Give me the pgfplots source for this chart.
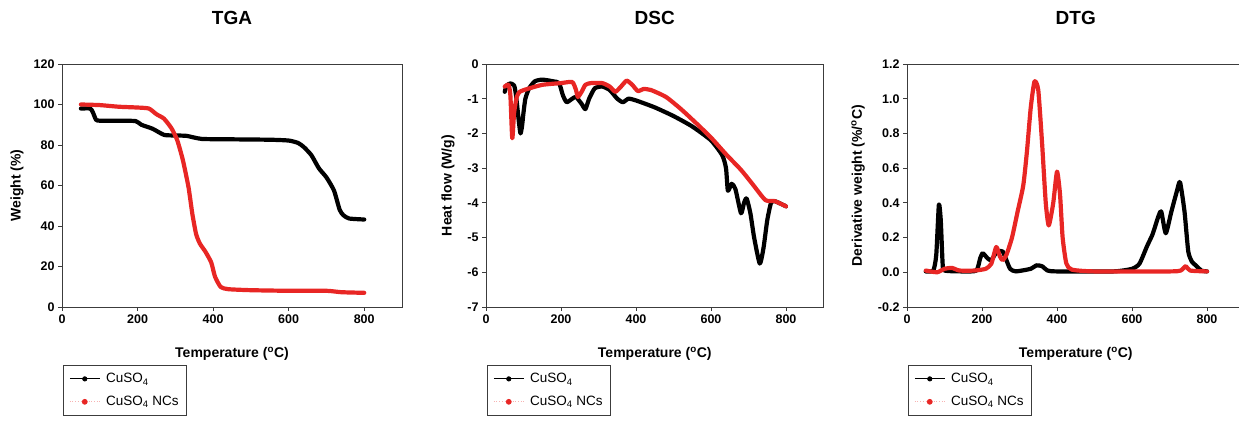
\documentclass[border=0pt]{standalone}
\usepackage{fontspec}
\setmainfont{Liberation Sans}
\usepackage{pgfplots}
\pgfplotsset{compat=1.18}
\definecolor{myred}{RGB}{232,38,36}
\definecolor{axgray}{RGB}{60,60,60}
\pgfplotsset{
  panel/.style={
    scale only axis, width=337.5pt, height=243pt, anchor=south west,
    xmin=0, xmax=900, xtick={0,200,400,600,800},
    tick align=outside, xtick pos=bottom, ytick pos=left,
    major tick length=4pt, axis line style={axgray, line width=0.8pt},
    tick style={axgray, line width=0.8pt},
    /pgf/number format/assume math mode=true,
    ticklabel style={font=\bfseries\fontsize{12.5}{14}\selectfont},
    label style={font=\bfseries\fontsize{14}{16}\selectfont},
    title style={font=\bfseries\fontsize{19}{22}\selectfont, at={(axis description cs:0.5,1)}, anchor=base, yshift=33pt},
    xlabel={Temperature (\textsuperscript{o}C)},
    xlabel style={at={(axis description cs:0.5,0)}, anchor=base, yshift=-51pt},
    legend cell align=left,
    legend style={at={(axis description cs:0.003,-0.239)}, anchor=north west,
      draw=axgray, line width=0.7pt, font=\fontsize{13.5}{15}\selectfont,
      inner xsep=6pt, inner ysep=6pt, row sep=8pt},
  },
  curve/.style={line width=4.2pt, line join=round, line cap=round, smooth, tension=0.35, forget plot},
}
\newcommand{\mylegend}{%
  \addlegendimage{legend image code/.code={\draw[black,line width=0.8pt](0pt,0pt)--(30pt,0pt);\fill[black](15pt,0pt) circle (2.2pt);\path (34pt,0pt);}}
  \addlegendentry{CuSO\textsubscript{4}}
  \addlegendimage{legend image code/.code={\draw[myred!35,dotted,line width=0.7pt](0pt,0pt)--(30pt,0pt);\fill[myred](15pt,0pt) circle (2.5pt);\path (34pt,0pt);}}
  \addlegendentry{CuSO\textsubscript{4} NCs}
}
\begin{document}
\begin{tikzpicture}
\useasboundingbox (0,0) rectangle (1239pt,422pt);
\clip (0,0) rectangle (1239pt,422pt);
% ---------------- TGA
\begin{axis}[panel, at={(62pt,115pt)}, width=340pt, title={TGA},
  ymin=0, ymax=120, ytick={0,20,40,60,80,100,120},
  ylabel={Weight (\%)}, ylabel style={at={(axis description cs:0,0.5)}, anchor=center, yshift=45pt}]
\mylegend
\addplot[curve, black] coordinates {
(50,98) (75,98) (82,96) (90,92.5) (100,92) (150,92) (195,91.8) (210,90) (240,88) (270,85) (300,84.7) (330,84.5) (370,83) (450,82.8) (550,82.6) (600,82.2) (625,81) (640,79) (660,75) (680,68.5) (700,64) (720,57.5) (735,48) (745,45.3) (760,43.7) (800,43.2)};
\addplot[curve, myred] coordinates {
(50,100) (100,99.7) (150,98.9) (200,98.5) (230,98) (250,95.2) (270,93) (290,88.2) (305,82.4) (320,72.5) (335,59) (345,46) (355,36) (365,31.3) (380,27.2) (395,22) (405,15) (420,9.9) (440,8.8) (500,8.3) (600,8) (700,8) (740,7.3) (800,7)};
\end{axis}
% ---------------- DSC
\begin{axis}[panel, at={(486pt,115pt)}, title={DSC},
  ymin=-7, ymax=0, ytick={-7,-6,-5,-4,-3,-2,-1,0},
  ylabel={Heat flow (W/g)}, ylabel style={at={(axis description cs:0,0.5)}, anchor=center, yshift=38pt}]
\mylegend
\addplot[curve, black] coordinates {
(50,-0.8) (55,-0.62) (65,-0.56) (75,-0.62) (80,-0.9) (88,-1.7) (92,-2.0) (96,-1.8) (100,-1.4) (105,-1.0) (115,-0.7) (130,-0.5) (150,-0.45) (180,-0.5) (195,-0.55) (205,-0.9) (215,-1.1) (230,-1.0) (240,-0.95) (255,-1.15) (265,-1.3) (275,-1.0) (290,-0.7) (310,-0.65) (330,-0.75) (350,-1.0) (365,-1.1) (380,-1.0) (400,-1.05) (450,-1.25) (500,-1.5) (550,-1.8) (600,-2.2) (630,-2.63) (640,-3.0) (645,-3.65) (655,-3.45) (665,-3.6) (680,-4.3) (688,-4.0) (695,-3.87) (705,-4.3) (715,-5.0) (730,-5.75) (740,-5.3) (750,-4.5) (760,-4.0) (770,-3.95) (800,-4.1)};
\addplot[curve, myred] coordinates {
(50,-0.65) (60,-0.6) (65,-0.9) (70,-2.14) (75,-1.4) (82,-0.95) (90,-0.8) (110,-0.72) (150,-0.6) (200,-0.55) (230,-0.52) (240,-0.75) (245,-0.95) (255,-0.8) (265,-0.6) (280,-0.55) (310,-0.55) (330,-0.65) (345,-0.8) (360,-0.65) (375,-0.48) (390,-0.6) (405,-0.78) (420,-0.72) (440,-0.75) (480,-0.95) (520,-1.3) (560,-1.7) (600,-2.12) (640,-2.6) (680,-3.05) (710,-3.45) (745,-3.92) (770,-3.95) (800,-4.1)};
\end{axis}
% ---------------- DTG
\begin{axis}[panel, at={(907pt,115pt)}, title={DTG},
  ymin=-0.2, ymax=1.2, ytick={-0.2,0,0.2,0.4,0.6,0.8,1.0,1.2},
  yticklabel style={/pgf/number format/.cd, fixed, fixed zerofill, precision=1},
  ylabel={Derivative weight (\%/\textsuperscript{o}C)}, ylabel style={at={(axis description cs:0,0.5)}, anchor=center, yshift=49pt}]
\mylegend
\addplot[curve, black] coordinates {
(50,0.005) (70,0.01) (78,0.1) (85,0.39) (90,0.3) (95,0.05) (100,0.01) (150,0.005) (185,0.01) (195,0.08) (202,0.11) (215,0.08) (225,0.07) (240,0.12) (255,0.12) (265,0.07) (275,0.02) (290,0.005) (330,0.02) (345,0.04) (360,0.035) (375,0.01) (400,0.005) (550,0.005) (600,0.02) (620,0.05) (640,0.15) (655,0.22) (670,0.32) (678,0.35) (690,0.225) (705,0.35) (720,0.47) (728,0.52) (740,0.35) (750,0.12) (760,0.06) (770,0.04) (785,0.01) (800,0.005)};
\addplot[curve, myred] coordinates {
(50,0.01) (80,0.0) (100,0.02) (120,0.025) (140,0.01) (180,0.01) (210,0.02) (225,0.05) (238,0.146) (248,0.09) (255,0.07) (265,0.1) (280,0.2) (295,0.35) (310,0.5) (320,0.7) (330,0.95) (340,1.1) (350,1.05) (360,0.75) (370,0.4) (378,0.27) (390,0.4) (400,0.58) (408,0.45) (415,0.2) (425,0.05) (440,0.015) (500,0.005) (700,0.005) (730,0.01) (743,0.035) (755,0.01) (800,0.005)};
\end{axis}
\end{tikzpicture}
\end{document}
